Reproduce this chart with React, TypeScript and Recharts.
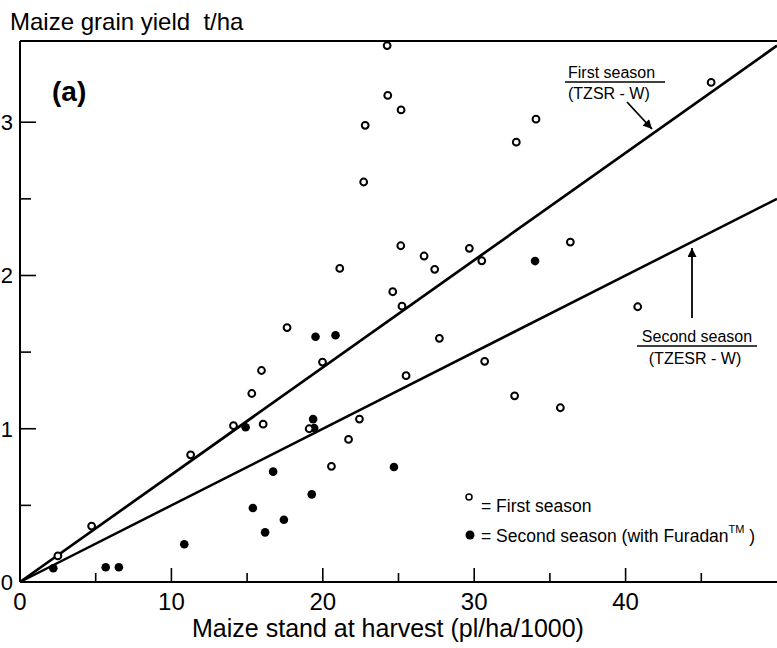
import React from "react"
import {
  ScatterChart,
  Scatter,
  XAxis,
  YAxis,
  ReferenceLine,
} from "recharts"

// Maize stand at harvest (pl/ha/1000) vs grain yield (t/ha)
const FIRST_X = [
  2.5, 4.73, 11.27, 14.1, 16.06, 15.31, 15.95, 17.64, 19.1, 19.98, 20.57, 21.7,
  22.42, 21.12, 22.7, 22.8, 24.25, 24.29, 25.17, 25.15, 26.69, 27.39, 24.62,
  25.23, 25.5, 27.7, 29.68, 30.5, 30.69, 32.67, 32.78, 34.08, 35.69, 36.35,
  40.8, 45.65,
]
const FIRST_Y = [
  0.17, 0.365, 0.83, 1.02, 1.03, 1.23, 1.38, 1.66, 1.0, 1.435, 0.755, 0.93,
  1.063, 2.046, 2.61, 2.98, 3.5, 3.175, 3.08, 2.194, 2.127, 2.04, 1.894, 1.8,
  1.346, 1.59, 2.177, 2.096, 1.44, 1.215, 2.87, 3.02, 1.137, 2.218, 1.796,
  3.26,
]
const SECOND_X = [
  2.2, 5.66, 6.53, 10.85, 14.9, 15.38, 16.19, 16.72, 17.43, 19.27, 19.36,
  19.43, 19.52, 20.84, 24.7, 34.02,
]
const SECOND_Y = [
  0.09, 0.096, 0.096, 0.246, 1.01, 0.483, 0.324, 0.72, 0.406, 0.572, 1.063,
  1.005, 1.6, 1.61, 0.75, 2.094,
]

// fitted lines through the origin
const FIRST_SLOPE = 0.07
const SECOND_SLOPE = 0.05

const X_MAX = 50
const Y_MAX = 3.53
const X_TICKS = [0, 5, 10, 15, 20, 25, 30, 35, 40, 45]
const X_LABELS = [0, 10, 20, 30, 40]
const Y_TICKS = [0, 0.5, 1, 1.5, 2, 2.5, 3]
const Y_LABELS = [0, 1, 2, 3]

const FONT = "'Liberation Sans', Arial, Helvetica, sans-serif"

const firstData = FIRST_X.map((x, i) => ({ x, y: FIRST_Y[i] }))
const secondData = SECOND_X.map((x, i) => ({ x, y: SECOND_Y[i] }))

const OpenDot = (p: any) => (
  <circle cx={p.cx} cy={p.cy} r={3.4} fill="#fff" stroke="#000" strokeWidth={2} />
)
const FilledDot = (p: any) => <circle cx={p.cx} cy={p.cy} r={4.3} fill="#000" />

function XTick(props: any) {
  const { x, y, payload } = props
  const v = payload.value
  const major = X_LABELS.includes(v)
  return (
    <g>
      {v !== 0 && (
        <line x1={x} y1={y} x2={x} y2={y - (major ? 14 : 9)} stroke="#000" strokeWidth={1.6} />
      )}
      {major && (
        <text x={x} y={y + 28} textAnchor="middle" fontSize={24} fontFamily={FONT} fill="#000">
          {v}
        </text>
      )}
    </g>
  )
}

function YTick(props: any) {
  const { x, y, payload } = props
  const v = payload.value
  const major = Y_LABELS.includes(v)
  return (
    <g>
      {v !== 0 && (
        <line x1={x} y1={y} x2={x + (major ? 16 : 11)} y2={y} stroke="#000" strokeWidth={1.6} />
      )}
      {major && (
        <text x={x - 7} y={y + 8} textAnchor="end" fontSize={22} fontFamily={FONT} fill="#000">
          {v}
        </text>
      )}
    </g>
  )
}

export default function App() {
  return (
    <div style={{ position: "absolute", left: 0, top: 0, width: 777, height: 648, background: "#fff" }}>
      <ScatterChart
        width={777}
        height={648}
        margin={{ top: 41, right: 0, bottom: 36, left: 0 }}
      >
        <XAxis
          type="number"
          dataKey="x"
          domain={[0, X_MAX]}
          ticks={X_TICKS}
          interval={0}
          height={30}
          tickSize={0}
          tickMargin={0}
          tickLine={false}
          axisLine={{ stroke: "#000", strokeWidth: 2 }}
          tick={<XTick />}
        />
        <YAxis
          type="number"
          dataKey="y"
          domain={[0, Y_MAX]}
          ticks={Y_TICKS}
          interval={0}
          width={20}
          tickSize={0}
          tickMargin={0}
          tickLine={false}
          axisLine={{ stroke: "#000", strokeWidth: 2 }}
          tick={<YTick />}
        />
        <ReferenceLine y={Y_MAX} stroke="#000" strokeWidth={1.8} ifOverflow="visible" />
        <ReferenceLine
          segment={[{ x: 0, y: 0 }, { x: X_MAX, y: FIRST_SLOPE * X_MAX }]}
          stroke="#000"
          strokeWidth={2.7}
          ifOverflow="visible"
        />
        <ReferenceLine
          segment={[{ x: 0, y: 0 }, { x: X_MAX, y: SECOND_SLOPE * X_MAX }]}
          stroke="#000"
          strokeWidth={2.5}
          ifOverflow="visible"
        />
        <Scatter data={secondData} shape={FilledDot} isAnimationActive={false} />
        <Scatter data={firstData} shape={OpenDot} isAnimationActive={false} />
      </ScatterChart>

      <svg
        width={777}
        height={648}
        style={{ position: "absolute", left: 0, top: 0, pointerEvents: "none" }}
        fontFamily={FONT}
      >
        <defs>
          <marker
            id="head"
            viewBox="0 0 10 10"
            refX="10"
            refY="5"
            markerUnits="userSpaceOnUse"
            markerWidth="11"
            markerHeight="9"
            orient="auto"
          >
            <path d="M0,0 L10,5 L0,10 z" fill="#000" />
          </marker>
        </defs>

        <text x={10} y={30} fontSize={24} fill="#000" style={{ whiteSpace: "pre" }}>
          {"Maize grain yield\u00a0 t/ha"}
        </text>
        <text x={52} y={101} fontSize={28} fontWeight="bold" fill="#000">
          (a)
        </text>

        {/* first season line label */}
        <text x={568} y={78} fontSize={16} fill="#000">First season</text>
        <line x1={565} y1={82} x2={665} y2={82} stroke="#000" strokeWidth={1.6} />
        <text x={568} y={99} fontSize={16} fill="#000">(TZSR - W)</text>
        <line x1={627} y1={102} x2={652} y2={129} stroke="#000" strokeWidth={1.8} markerEnd="url(#head)" />

        {/* second season line label */}
        <text x={697} y={342} fontSize={16} textAnchor="middle" fill="#000">Second season</text>
        <line x1={637} y1={346} x2={757} y2={346} stroke="#000" strokeWidth={1.6} />
        <text x={695} y={364} fontSize={16} textAnchor="middle" fill="#000">(TZESR - W)</text>
        <line x1={692} y1={318} x2={692} y2={248} stroke="#000" strokeWidth={1.8} markerEnd="url(#head)" />

        {/* key */}
        <circle cx={469} cy={497} r={3} fill="#fff" stroke="#000" strokeWidth={1.5} />
        <text x={481} y={512} fontSize={17.5} fill="#000">= First season</text>
        <circle cx={470} cy={535} r={4.5} fill="#000" />
        <text x={481} y={542} fontSize={17.5} fill="#000">
          = Second season (with Furadan
          <tspan fontSize={11} dy={-9}>TM</tspan>
          <tspan dy={9}> )</tspan>
        </text>

        <text x={388} y={637} fontSize={25} textAnchor="middle" fill="#000">
          Maize stand at harvest (pl/ha/1000)
        </text>
      </svg>
    </div>
  )
}
